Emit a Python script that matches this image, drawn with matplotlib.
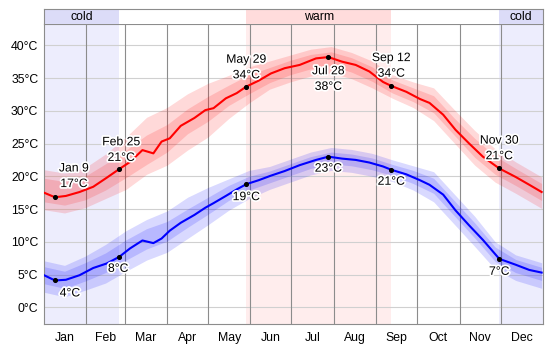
import matplotlib
matplotlib.use("Agg")
import matplotlib.pyplot as plt
import matplotlib.patheffects as pe

# day of year for the line readings
days = [0, 8, 16, 26, 36, 46, 55, 63, 72, 80, 86, 92, 100, 110, 118, 124, 133, 141,
        148, 157, 166, 176, 187, 199, 208, 218, 228, 238, 248, 254, 265, 275, 282,
        292, 301, 311, 321, 333, 345, 355, 364]
high = [17.5, 16.8, 17.0, 17.6, 18.4, 19.8, 21.1, 22.2, 24.0, 23.5, 25.3, 25.8, 27.7,
        28.9, 30.1, 30.4, 31.9, 32.7, 33.7, 34.6, 35.7, 36.5, 37.0, 38.0, 38.2, 37.5,
        37.0, 36.0, 34.4, 33.8, 32.9, 31.8, 31.2, 29.4, 27.1, 25.0, 23.0, 21.2, 19.9,
        18.7, 17.6]
low = [4.9, 4.1, 4.2, 4.9, 6.0, 6.7, 7.7, 9.0, 10.2, 9.8, 10.5, 11.7, 12.9, 14.1, 15.2,
       15.9, 17.0, 18.0, 18.8, 19.4, 20.1, 20.8, 21.7, 22.5, 23.0, 22.7, 22.5, 22.1,
       21.5, 21.0, 20.3, 19.4, 18.7, 17.2, 14.8, 12.5, 10.3, 7.4, 6.5, 5.7, 5.3]

# percentile bands
band_days = [0, 15, 30, 45, 60, 75, 90, 105, 120, 135, 150, 165, 180, 195, 210, 225,
             240, 255, 270, 285, 300, 315, 330, 345, 364]
high_p90 = [21.0, 20.5, 21.3, 23.4, 26.0, 29.0, 30.5, 32.6, 34.2, 35.4, 36.7, 37.6, 38.5,
            39.4, 39.8, 38.9, 37.6, 35.5, 34.4, 33.5, 30.2, 27.0, 24.2, 22.2, 19.9]
high_p75 = [19.7, 19.2, 20.0, 21.9, 24.0, 26.3, 27.9, 30.3, 32.2, 33.9, 35.5, 36.6, 37.7,
            38.6, 39.0, 38.1, 36.7, 34.7, 33.5, 32.3, 28.9, 25.8, 23.1, 21.2, 18.9]
high_p25 = [16.1, 15.6, 16.4, 17.9, 19.8, 21.8, 23.7, 26.5, 28.4, 30.8, 32.6, 34.3, 35.5,
            36.4, 36.9, 35.9, 34.5, 32.7, 31.4, 29.7, 26.3, 22.9, 20.3, 18.6, 16.3]
high_p10 = [14.9, 14.4, 15.2, 16.6, 18.0, 20.3, 21.7, 24.0, 26.0, 28.8, 31.2, 33.3, 34.4,
            35.3, 35.8, 34.9, 33.5, 31.9, 30.5, 28.5, 25.1, 21.7, 19.1, 17.4, 15.1]
low_p90 = [7.1, 6.4, 7.8, 9.6, 11.7, 13.4, 14.7, 16.8, 18.3, 19.6, 20.9, 21.5, 22.6,
           23.7, 24.4, 24.1, 23.5, 22.5, 21.6, 20.7, 17.3, 13.9, 10.0, 8.0, 6.8]
low_p75 = [6.2, 5.5, 6.8, 8.3, 10.3, 12.0, 13.1, 15.0, 16.8, 18.6, 20.0, 20.8, 21.9,
           23.0, 23.7, 23.4, 22.8, 21.8, 20.9, 19.7, 16.3, 12.9, 9.2, 7.3, 6.1]
low_p25 = [3.6, 2.9, 4.0, 5.3, 7.2, 8.9, 10.1, 12.2, 14.2, 16.3, 17.9, 19.0, 20.1,
           21.2, 21.9, 21.6, 21.0, 20.1, 18.9, 17.4, 14.0, 10.6, 7.0, 5.3, 4.1]
low_p10 = [2.3, 1.6, 2.6, 3.7, 5.5, 7.2, 8.4, 10.5, 12.6, 14.8, 16.6, 18.0, 19.1,
           20.2, 20.9, 20.6, 20.0, 19.2, 17.9, 16.1, 12.7, 9.3, 5.8, 4.1, 2.9]

# marked dates
mark_days = [8, 55, 148, 208, 254, 333]
mark_names = ["Jan 9", "Feb 25", "May 29", "Jul 28", "Sep 12", "Nov 30"]
mark_high = [16.8, 21.1, 33.7, 38.2, 33.8, 21.2]
mark_low = [4.1, 7.7, 18.8, 23.0, 21.0, 7.4]

# seasons
cold_spans = [(0, 55), (333, 365)]
warm_spans = [(148, 254)]

month_starts = [0, 31, 59, 90, 120, 151, 181, 212, 243, 273, 304, 334, 365]
month_names = ["Jan", "Feb", "Mar", "Apr", "May", "Jun", "Jul", "Aug", "Sep", "Oct",
               "Nov", "Dec"]

plt.rcParams.update({'font.family': ['Liberation Sans', 'DejaVu Sans'], 'font.size': 8.8})

W, H = 554, 349
fig = plt.figure(figsize=(W / 100, H / 100), dpi=100)
ax = fig.add_axes([44 / W, 25 / H, 499 / W, 300 / H])
hdr = fig.add_axes([44 / W, 325 / H, 499 / W, 15 / H])

grey = '#8c8c8c'

# season backgrounds
for a, b in cold_spans:
    ax.axvspan(a, b, color='#ededfd', lw=0, zorder=0)
    hdr.axvspan(a, b, color='#dcdcf8', lw=0, zorder=0)
for a, b in warm_spans:
    ax.axvspan(a, b, color='#ffeded', lw=0, zorder=0)
    hdr.axvspan(a, b, color='#ffdcdc', lw=0, zorder=0)

for a, b in cold_spans:
    hdr.text((a + b) / 2, 0.45, "cold", ha='center', va='center')
for a, b in warm_spans:
    hdr.text((a + b) / 2, 0.45, "warm", ha='center', va='center')

# grid
for t in range(0, 45, 5):
    ax.axhline(t, color='#d0d0d0', lw=0.8, zorder=1)
for m in month_starts[1:-1]:
    ax.axvline(m, color=grey, lw=0.8, zorder=1)

# bands
ax.fill_between(band_days, high_p10, high_p90, color='red', alpha=0.15, lw=0, zorder=2)
ax.fill_between(band_days, high_p25, high_p75, color='red', alpha=0.15, lw=0, zorder=2)
ax.fill_between(band_days, low_p10, low_p90, color='blue', alpha=0.15, lw=0, zorder=2)
ax.fill_between(band_days, low_p25, low_p75, color='blue', alpha=0.15, lw=0, zorder=2)

ax.plot(days, high, color='red', lw=1.5, zorder=3)
ax.plot(days, low, color='blue', lw=1.5, zorder=3)
ax.scatter(mark_days, mark_high, s=7, color='black', zorder=4)
ax.scatter(mark_days, mark_low, s=7, color='black', zorder=4)

halo = [pe.withStroke(linewidth=2.5, foreground='white')]
high_offsets = [(19, 21), (2, 19), (0, 19), (0, -22), (0, 20), (0, 20)]
low_offsets = [(15, -13), (-1, -12), (0, -13), (0, -12), (0, -12), (0, -13)]
for d, name, v, off in zip(mark_days, mark_names, mark_high, high_offsets):
    ax.annotate(f"{name}\n{round(v)}°C", (d, v), xytext=off, textcoords='offset pixels',
                ha='center', va='center', linespacing=1.4, path_effects=halo, zorder=5)
for d, v, off in zip(mark_days, mark_low, low_offsets):
    ax.annotate(f"{round(v)}°C", (d, v), xytext=off, textcoords='offset pixels',
                ha='center', va='center', path_effects=halo, zorder=5)

ax.set_xlim(0, 365)
ax.set_ylim(-2.55, 43.25)
ax.set_yticks(range(0, 45, 5))
ax.set_yticklabels([f"{t}°C" for t in range(0, 45, 5)])
mids = [(month_starts[i] + month_starts[i + 1]) / 2 for i in range(12)]
ax.set_xticks(mids)
ax.set_xticklabels(month_names)
ax.tick_params(length=0, pad=4)
ax.tick_params(axis='x', pad=6)

hdr.set_xlim(0, 365)
hdr.set_ylim(0, 1)
hdr.set_xticks([])
hdr.set_yticks([])

for a in (ax, hdr):
    for s in a.spines.values():
        s.set_color(grey)
        s.set_linewidth(0.8)
hdr.spines['bottom'].set_visible(False)

fig.savefig("out.png", dpi=100)
